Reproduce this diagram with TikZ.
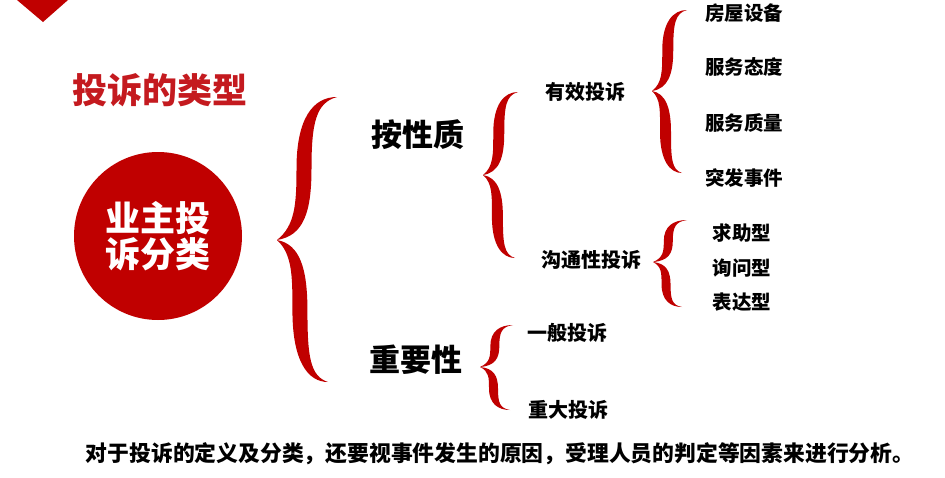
\documentclass[tikz,border=0pt]{standalone}
\usepackage{fontspec}
\setmainfont{Noto Sans CJK SC}
\usetikzlibrary{positioning}
\definecolor{braceC}{HTML}{C00000}
\definecolor{titleC}{HTML}{C41A1F}
\definecolor{rootC}{HTML}{C00000}

\tikzset{
  lvlone/.style={font=\fontsize{31}{31}\selectfont\bfseries,inner sep=0pt},
  lvltwo/.style={font=\fontsize{20}{20}\selectfont\bfseries,inner sep=0pt},
  lvlthree/.style={font=\fontsize{19.5}{19.5}\selectfont\bfseries,inner sep=0pt},
}

\begin{document}
\begin{tikzpicture}[x=1pt,y=-1pt]
  \useasboundingbox (0,0) rectangle (945,477);
  \fill[white] (0,0) rectangle (945,477);

  % corner mark
  \fill[rootC] (17,0) -- (68,0) -- (43,22) -- cycle;

  % title
  \node[titleC,font=\fontsize{35}{35}\selectfont\bfseries,inner sep=0pt] (title) at (160,90) {投诉的类型};

  % root circle
  \node[circle,fill=rootC,minimum size=168pt,inner sep=0pt,text=white,align=center,
        font=\fontsize{35}{36}\selectfont\bfseries] (root) at (158,236) {业主投\\诉分类};

  % calligraphic braces: tip x / tip y / upper width / lower width / upper h / lower h / half thickness
  \foreach \tx/\ty/\wu/\wd/\hu/\hd/\t in {277/240/60/51/143/142/7.5,
      483/175/35/32/83/83/5.5, 652/91/35/30/81/82/5.5,
      653/262/34/29/42/45/4.5, 480/367/33/30/42/43/4.5}{
    \pgfmathsetmacro{\au}{0.45*\wu}
    \pgfmathsetmacro{\ad}{0.45*\wd}
    % upper half
    \fill[braceC] (\tx,\ty)
      .. controls (\tx+0.3*\wu,\ty-0.1*\hu) and (\tx+\au-\t,\ty-0.25*\hu) .. (\tx+\au-\t,\ty-0.5*\hu)
      .. controls (\tx+\au-\t,\ty-0.85*\hu) and (\tx+0.6*\wu,\ty-\hu) .. (\tx+\wu,\ty-\hu)
      .. controls (\tx+0.65*\wu,\ty-0.96*\hu) and (\tx+\au+\t,\ty-0.82*\hu) .. (\tx+\au+\t,\ty-0.5*\hu)
      .. controls (\tx+\au+\t,\ty-0.2*\hu) and (\tx+0.45*\wu,\ty-0.03*\hu) .. (\tx,\ty) -- cycle;
    % lower half
    \fill[braceC] (\tx,\ty)
      .. controls (\tx+0.3*\wd,\ty+0.1*\hd) and (\tx+\ad-\t,\ty+0.25*\hd) .. (\tx+\ad-\t,\ty+0.5*\hd)
      .. controls (\tx+\ad-\t,\ty+0.85*\hd) and (\tx+0.6*\wd,\ty+\hd) .. (\tx+\wd,\ty+\hd)
      .. controls (\tx+0.65*\wd,\ty+0.96*\hd) and (\tx+\ad+\t,\ty+0.82*\hd) .. (\tx+\ad+\t,\ty+0.5*\hd)
      .. controls (\tx+\ad+\t,\ty+0.2*\hd) and (\tx+0.45*\wd,\ty+0.03*\hd) .. (\tx,\ty) -- cycle;
  }

  % first level
  \node[lvlone] (nature) at (418,135) {按性质};
  \node[lvlone] (importance) at (416,360) {重要性};

  % second level
  \node[lvltwo] (valid) at (585,92) {有效投诉};
  \node[lvltwo] (comm) at (591,260) {沟通性投诉};
  \node[lvltwo] (general) at (567,333) {一般投诉};
  \node[lvltwo] (major) at (568,410) {重大投诉};

  % third level
  \node[lvlthree] (house) at (744,13) {房屋设备};
  \node[lvlthree] (attitude) at (744,67) {服务态度};
  \node[lvlthree] (quality) at (744,123) {服务质量};
  \node[lvlthree] (sudden) at (744,178) {突发事件};
  \node[lvlthree] (help) at (742,233) {求助型};
  \node[lvlthree] (ask) at (742,268) {询问型};
  \node[lvlthree] (express) at (742,302) {表达型};

  % note
  \node[font=\fontsize{21.8}{21.8}\selectfont\bfseries,inner sep=0pt] (note) at (500,454)
    {对于投诉的定义及分类，还要视事件发生的原因，受理人员的判定等因素来进行分析。};
\end{tikzpicture}
\end{document}
